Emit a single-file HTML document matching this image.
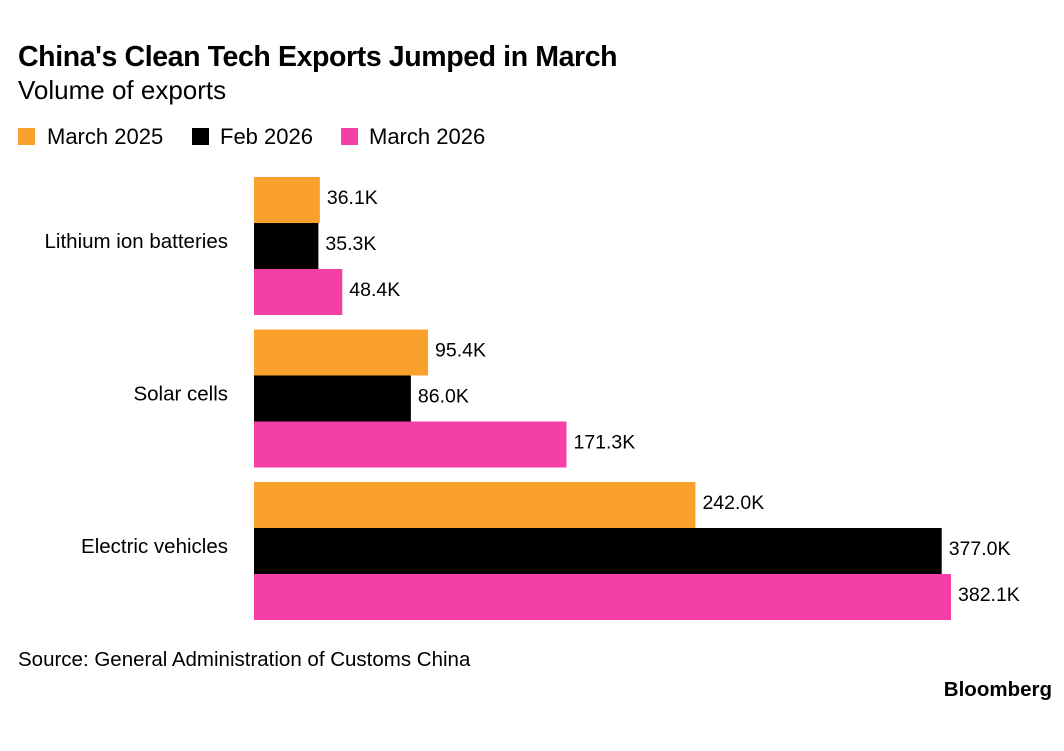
<!DOCTYPE html>
<html><head><meta charset="utf-8"><style>
body{margin:0;background:#fff;width:1064px;height:746px;overflow:hidden;font-family:"Liberation Sans",sans-serif;color:#000}
svg text{font-family:"Liberation Sans",sans-serif}
</style></head><body>
<svg id="chart" width="1064" height="746">
<text x="18" y="66" font-size="28.5" font-weight="bold" letter-spacing="-0.4">China's Clean Tech Exports Jumped in March</text>
<text x="18" y="99" font-size="26">Volume of exports</text>
<g>
<rect x="18" y="128" width="17" height="17" fill="#f9a12c"/>
<text x="47" y="144" font-size="22">March 2025</text>
<rect x="192" y="128" width="17" height="17" fill="#000"/>
<text x="220" y="144" font-size="22">Feb 2026</text>
<rect x="341" y="128" width="17" height="17" fill="#f43ea8"/>
<text x="369" y="144" font-size="22">March 2026</text>
</g>
<g id="bars"></g>
<text x="18" y="666" font-size="20.5">Source: General Administration of Customs China</text>
<text x="1052" y="696" font-size="20.5" font-weight="bold" text-anchor="end">Bloomberg</text>
</svg>
<script>
const categories=["Lithium ion batteries","Solar cells","Electric vehicles"];
const march2025=[36.1,95.4,242.0];
const feb2026=[35.3,86.0,377.0];
const march2026=[48.4,171.3,382.1];
const seriesNames=["march-2025","feb-2026","march-2026"];
const seriesColors=["#f9a12c","#000000","#f43ea8"];
const series=[march2025,feb2026,march2026];
const x0=254, pxPerK=(951-254)/382.1;
const xScale=v=>x0+v*pxPerK;
const groupTop=177, groupStep=152.5, barH=46;
const ns="http://www.w3.org/2000/svg";
const g=document.getElementById('bars');
categories.forEach((c,i)=>{
  const top=groupTop+i*groupStep;
  const t=document.createElementNS(ns,'text');
  
  
  t.setAttribute('x',228);t.setAttribute('y',top+barH*1.5+2);
  t.setAttribute('text-anchor','end');t.setAttribute('font-size','20.5');
  t.textContent=c;g.appendChild(t);
  series.forEach((s,j)=>{
    const y=top+j*barH;
    const r=document.createElementNS(ns,'rect');
    
    
    r.setAttribute('x',x0);r.setAttribute('y',y);
    r.setAttribute('width',xScale(s[i])-x0);r.setAttribute('height',barH);
    r.setAttribute('fill',seriesColors[j]);g.appendChild(r);
    const l=document.createElementNS(ns,'text');
    
    
    l.setAttribute('x',xScale(s[i])+7);l.setAttribute('y',y+barH/2+4);
    l.setAttribute('font-size','19.5');
    l.textContent=s[i].toFixed(1)+'K';g.appendChild(l);
  });
});
</script>
</body></html>
